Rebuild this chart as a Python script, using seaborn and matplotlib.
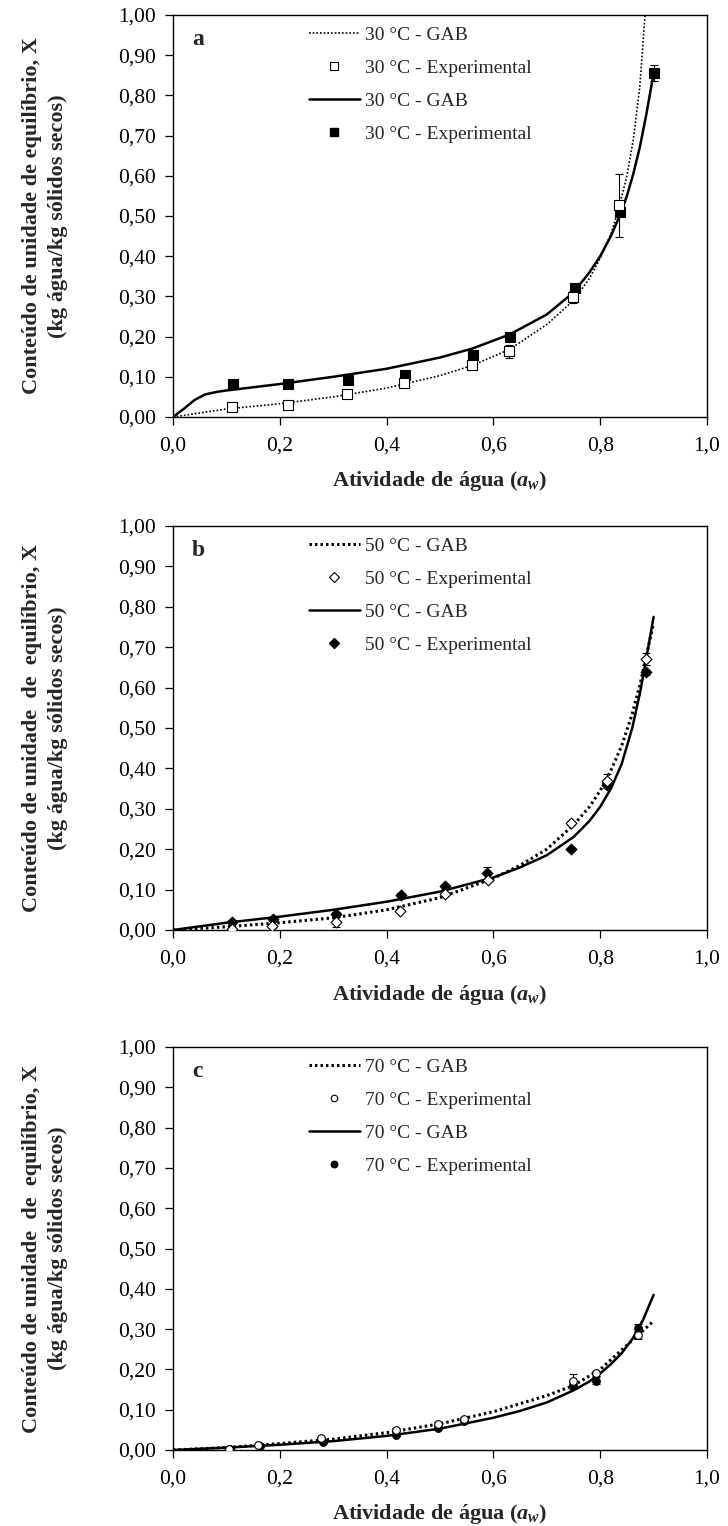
import numpy as np
import pandas as pd
import matplotlib
matplotlib.use("Agg")
import matplotlib.pyplot as plt
import seaborn as sns
from matplotlib.lines import Line2D

sns.set_theme(style="ticks")
plt.rcParams['font.family'] = ['Liberation Serif', 'DejaVu Serif']
plt.rcParams['mathtext.fontset'] = 'custom'
plt.rcParams['mathtext.rm'] = 'Liberation Serif:bold'
plt.rcParams['mathtext.it'] = 'Liberation Serif:bold:italic'
plt.rcParams['mathtext.bf'] = 'Liberation Serif:bold'

# ---------------- data ----------------
# Panel a : 30 °C
a_open_x = [0.110, 0.216, 0.325, 0.432, 0.560, 0.630, 0.750, 0.836]
a_open_y = [0.025, 0.030, 0.058, 0.085, 0.130, 0.163, 0.298, 0.527]
a_open_err = [0.006, 0.006, 0.006, 0.006, 0.006, 0.015, 0.015, 0.078]
a_fill_x = [0.112, 0.216, 0.327, 0.434, 0.562, 0.632, 0.752, 0.838, 0.900]
a_fill_y = [0.083, 0.083, 0.092, 0.105, 0.155, 0.200, 0.320, 0.510, 0.855]
a_fill_err = [0.006, 0.004, 0.006, 0.010, 0.006, 0.004, 0.006, 0.010, 0.020]
a_dot_x = [0.0, 0.05, 0.10, 0.20, 0.30, 0.40, 0.50, 0.56, 0.63, 0.70, 0.75, 0.78, 0.80, 0.82, 0.836, 0.850, 0.862, 0.874, 0.884]
a_dot_y = [0.0, 0.010, 0.020, 0.033, 0.050, 0.072, 0.103, 0.128, 0.168, 0.230, 0.290, 0.345, 0.395, 0.455, 0.525, 0.600, 0.690, 0.820, 1.000]
a_sol_x = [0.0, 0.02, 0.04, 0.06, 0.08, 0.10, 0.20, 0.30, 0.40, 0.50, 0.56, 0.63, 0.70, 0.75, 0.78, 0.80, 0.82, 0.838, 0.850, 0.862, 0.874, 0.886, 0.900]
a_sol_y = [0.0, 0.020, 0.042, 0.056, 0.062, 0.066, 0.082, 0.100, 0.120, 0.148, 0.170, 0.205, 0.255, 0.310, 0.360, 0.400, 0.450, 0.505, 0.550, 0.605, 0.670, 0.750, 0.855]

# Panel b : 50 °C
b_open_x = [0.110, 0.185, 0.305, 0.425, 0.510, 0.590, 0.745, 0.813, 0.885]
b_open_y = [0.003, 0.010, 0.020, 0.048, 0.088, 0.125, 0.265, 0.370, 0.670]
b_open_err = [0.004, 0.004, 0.012, 0.004, 0.004, 0.004, 0.005, 0.015, 0.015]
b_fill_x = [0.110, 0.187, 0.305, 0.427, 0.510, 0.588, 0.745, 0.813, 0.885]
b_fill_y = [0.020, 0.027, 0.040, 0.087, 0.108, 0.140, 0.200, 0.360, 0.638]
b_fill_err = [0.004, 0.004, 0.005, 0.005, 0.006, 0.015, 0.004, 0.008, 0.006]
b_dot_x = [0.0, 0.10, 0.20, 0.30, 0.40, 0.50, 0.60, 0.65, 0.70, 0.75, 0.78, 0.80, 0.82, 0.84, 0.86, 0.875, 0.89, 0.90]
b_dot_y = [0.0, 0.008, 0.018, 0.030, 0.050, 0.080, 0.128, 0.160, 0.200, 0.260, 0.305, 0.345, 0.395, 0.455, 0.535, 0.610, 0.700, 0.760]
b_sol_x = [0.0, 0.10, 0.20, 0.30, 0.40, 0.50, 0.60, 0.65, 0.70, 0.75, 0.78, 0.80, 0.82, 0.84, 0.86, 0.875, 0.89, 0.90]
b_sol_y = [0.0, 0.018, 0.033, 0.050, 0.070, 0.095, 0.130, 0.155, 0.185, 0.230, 0.270, 0.305, 0.350, 0.410, 0.500, 0.590, 0.700, 0.775]

# Panel c : 70 °C
c_open_x = [0.105, 0.160, 0.278, 0.418, 0.497, 0.545, 0.750, 0.793, 0.870]
c_open_y = [0.003, 0.012, 0.030, 0.050, 0.065, 0.078, 0.170, 0.190, 0.285]
c_open_err = [0.003, 0.003, 0.003, 0.004, 0.004, 0.004, 0.018, 0.006, 0.010]
c_fill_x = [0.107, 0.162, 0.280, 0.418, 0.497, 0.545, 0.750, 0.793, 0.870]
c_fill_y = [0.002, 0.011, 0.020, 0.038, 0.055, 0.073, 0.162, 0.172, 0.303]
c_fill_err = [0.003, 0.003, 0.003, 0.004, 0.004, 0.004, 0.006, 0.008, 0.010]
c_dot_x = [0.0, 0.10, 0.20, 0.30, 0.40, 0.50, 0.60, 0.70, 0.75, 0.80, 0.85, 0.90]
c_dot_y = [0.0, 0.006, 0.016, 0.027, 0.043, 0.065, 0.095, 0.135, 0.160, 0.200, 0.260, 0.320]
c_sol_x = [0.0, 0.10, 0.20, 0.30, 0.40, 0.50, 0.60, 0.65, 0.70, 0.75, 0.78, 0.80, 0.82, 0.84, 0.86, 0.88, 0.90]
c_sol_y = [0.0, 0.006, 0.013, 0.022, 0.035, 0.053, 0.080, 0.097, 0.118, 0.148, 0.170, 0.190, 0.213, 0.240, 0.275, 0.322, 0.385]

y_ticks = [0.0, 0.1, 0.2, 0.3, 0.4, 0.5, 0.6, 0.7, 0.8, 0.9, 1.0]
y_ticklabels = ["0,00", "0,10", "0,20", "0,30", "0,40", "0,50", "0,60", "0,70", "0,80", "0,90", "1,00"]
x_ticks = [0.0, 0.2, 0.4, 0.6, 0.8, 1.0]
x_ticklabels = ["0,0", "0,2", "0,4", "0,6", "0,8", "1,0"]
y_titles = ["Conteúdo de unidade de equilíbrio, X\n(kg água/kg sólidos secos)",
            "Conteúdo de unidade  de  equilíbrio, X\n(kg água/kg sólidos secos)",
            "Conteúdo de unidade  de  equilíbrio, X\n(kg água/kg sólidos secos)"]

panels = [
    dict(letter="a", temp="30", mk="s", ms=6.5,
         ox=a_open_x, oy=a_open_y, oe=a_open_err, fx=a_fill_x, fy=a_fill_y, fe=a_fill_err,
         dx=a_dot_x, dy=a_dot_y, sx=a_sol_x, sy=a_sol_y, dotlw=1.2, dotls=(0, (1, 1.2))),
    dict(letter="b", temp="50", mk="D", ms=5.5,
         ox=b_open_x, oy=b_open_y, oe=b_open_err, fx=b_fill_x, fy=b_fill_y, fe=b_fill_err,
         dx=b_dot_x, dy=b_dot_y, sx=b_sol_x, sy=b_sol_y, dotlw=2.2, dotls=(0, (0.8, 1.0))),
    dict(letter="c", temp="70", mk="o", ms=5.5,
         ox=c_open_x, oy=c_open_y, oe=c_open_err, fx=c_fill_x, fy=c_fill_y, fe=c_fill_err,
         dx=c_dot_x, dy=c_dot_y, sx=c_sol_x, sy=c_sol_y, dotlw=2.2, dotls=(0, (0.8, 1.0))),
]

fig = plt.figure(figsize=(7.28, 15.26), dpi=100)
W, H = 728, 1526
boxes = [(173, 15, 707, 417), (173, 526, 707, 930), (173, 1047, 707, 1450)]

for p, (l, t, r, b), ytitle in zip(panels, boxes, y_titles):
    ax = fig.add_axes([l / W, 1 - b / H, (r - l) / W, (b - t) / H])
    dfo = pd.DataFrame({"aw": p["ox"], "X": p["oy"]})
    dff = pd.DataFrame({"aw": p["fx"], "X": p["fy"]})
    dfd = pd.DataFrame({"aw": p["dx"], "X": p["dy"]})
    dfs = pd.DataFrame({"aw": p["sx"], "X": p["sy"]})

    sns.lineplot(data=dfd, x="aw", y="X", ax=ax, color="black", lw=p["dotlw"],
                 linestyle=p["dotls"], sort=False, estimator=None, zorder=2)
    sns.lineplot(data=dfs, x="aw", y="X", ax=ax, color="black", lw=1.8,
                 sort=False, estimator=None, zorder=2)
    ax.errorbar(p["ox"], p["oy"], yerr=p["oe"], fmt="none", ecolor="black",
                elinewidth=0.8, capsize=3, capthick=0.8, zorder=3)
    ax.errorbar(p["fx"], p["fy"], yerr=p["fe"], fmt="none", ecolor="black",
                elinewidth=0.8, capsize=3, capthick=0.8, zorder=3)
    sns.scatterplot(data=dff, x="aw", y="X", ax=ax, marker=p["mk"], s=p["ms"] ** 2,
                    color="black", edgecolor="black", linewidth=0.8, zorder=4)
    sns.scatterplot(data=dfo, x="aw", y="X", ax=ax, marker=p["mk"], s=p["ms"] ** 2,
                    facecolor="white", edgecolor="black", linewidth=0.8, zorder=5)

    ax.set_xlim(0, 1)
    ax.set_ylim(0, 1)
    ax.set_xticks(x_ticks)
    ax.set_xticklabels(x_ticklabels)
    ax.set_yticks(y_ticks)
    ax.set_yticklabels(y_ticklabels)
    ax.tick_params(direction="out", length=6, width=0.9, labelsize=15.5, pad=6, colors="black")
    ax.tick_params(axis="x", pad=8)
    for sp in ax.spines.values():
        sp.set_visible(True)
        sp.set_linewidth(1.0)
        sp.set_color("black")

    ax.set_xlabel(r"Atividade de água ($a_{w}$)", fontsize=16, fontweight="bold", va="center")
    ax.xaxis.set_label_coords(0.5, -0.16)
    ax.set_ylabel(ytitle, fontsize=16, fontweight="bold", linespacing=1.4, va="center")
    ax.yaxis.set_label_coords(-0.24, 0.5)

    ax.text(0.036, 0.94, p["letter"], transform=ax.transAxes, fontsize=17,
            fontweight="bold", va="center", ha="left")

    handles = [
        Line2D([], [], color="black", lw=p["dotlw"], linestyle=p["dotls"]),
        Line2D([], [], color="black", lw=0, marker=p["mk"], markersize=p["ms"] * 0.85,
               markerfacecolor="white", markeredgecolor="black", markeredgewidth=0.8),
        Line2D([], [], color="black", lw=1.8),
        Line2D([], [], color="black", lw=0, marker=p["mk"], markersize=p["ms"] * 0.85,
               markerfacecolor="black", markeredgecolor="black"),
    ]
    labels = [f"{p['temp']} °C - GAB", f"{p['temp']} °C - Experimental",
              f"{p['temp']} °C - GAB", f"{p['temp']} °C - Experimental"]
    ax.legend(handles, labels, loc="upper left", bbox_to_anchor=(0.233, 1.0),
              frameon=False, fontsize=14, handlelength=2.6, handletextpad=0.3,
              labelspacing=0.78, borderaxespad=0.2)

fig.savefig("out.png", dpi=100, facecolor="white")
